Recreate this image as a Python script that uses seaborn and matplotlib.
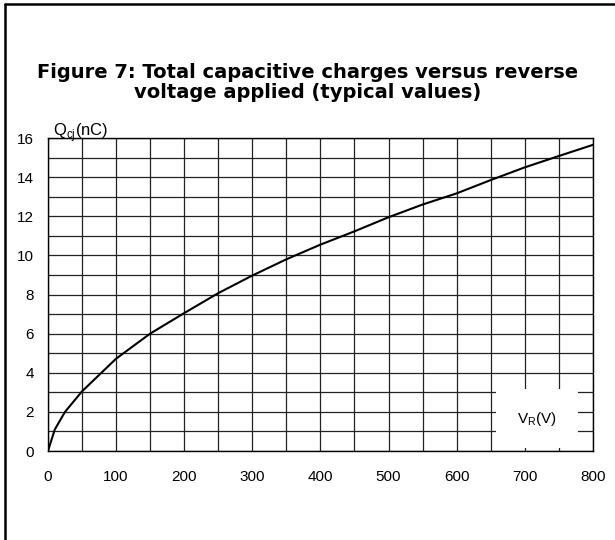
import numpy as np
import pandas as pd
import matplotlib
matplotlib.use("Agg")
import matplotlib.pyplot as plt
from matplotlib.lines import Line2D
import seaborn as sns

# valores (tension inversa V, carga Qcj nC)
tension_v = [0, 10, 25, 50, 100, 150, 200, 250, 300, 350, 400, 450, 500,
             550, 600, 650, 700, 750, 800]
carga_nc = [0, 1.1, 2.0, 3.05, 4.72, 6.0, 7.05, 8.07, 8.97, 9.8, 10.55,
            11.23, 11.95, 12.6, 13.17, 13.85, 14.5, 15.08, 15.65]

x_ticks = [0, 100, 200, 300, 400, 500, 600, 700, 800]
y_ticks = [0, 2, 4, 6, 8, 10, 12, 14, 16]

titulo = "Figure 7: Total capacitive charges versus reverse\nvoltage applied (typical values)"

sns.set_style("white")
plt.rcParams['font.family'] = ['Liberation Sans', 'DejaVu Sans']
plt.rcParams['text.color'] = 'black'

df = pd.DataFrame({'V': tension_v, 'Q': carga_nc})

fig = plt.figure(figsize=(6.15, 5.4), dpi=100)
ax = fig.add_axes([0.078, 0.1648, 0.886, 0.5796])

sns.lineplot(data=df, x='V', y='Q', color='black', linewidth=1.5, ax=ax, zorder=5)

ax.set_xlim(0, 800)
ax.set_ylim(0, 16)
ax.set_xticks(x_ticks)
ax.set_yticks(y_ticks)
ax.set_xticks(np.arange(50, 800, 100), minor=True)
ax.set_yticks(np.arange(1, 16, 2), minor=True)
ax.grid(True, which='both', color='#222222', linewidth=0.9)
ax.tick_params(which='both', length=0, labelsize=11, colors='black')
ax.tick_params(axis='x', pad=14)
ax.tick_params(axis='y', pad=10)
for s in ax.spines.values():
    s.set_color('black')
    s.set_linewidth(1.0)
ax.set_xlabel('')
ax.set_ylabel('')

# etiquetas de los ejes dentro del grafico
ax.text(0.01, 1.008, r'Q$_{\mathregular{cj}}$(nC)', transform=ax.transAxes,
        fontsize=12, ha='left', va='baseline', color='black')
ax.text(718, 1.65, r'V$_{\mathregular{R}}$(V)', fontsize=11, ha='center', va='center',
        color='black', zorder=6,
        bbox=dict(boxstyle='square,pad=1.35', fc='white', ec='none'))

fig.text(0.5, 0.847, titulo, ha='center', va='center', fontsize=14, color='black',
         fontweight='bold', linespacing=1.08, family='DejaVu Sans')

# marco exterior (solo arriba e izquierda)
fig.add_artist(Line2D([0.008, 1.0], [0.9925, 0.9925], transform=fig.transFigure,
                      color='black', linewidth=1.8))
fig.add_artist(Line2D([0.008, 0.008], [0.0, 0.9925], transform=fig.transFigure,
                      color='black', linewidth=1.8))

fig.savefig('out.png', dpi=100)
